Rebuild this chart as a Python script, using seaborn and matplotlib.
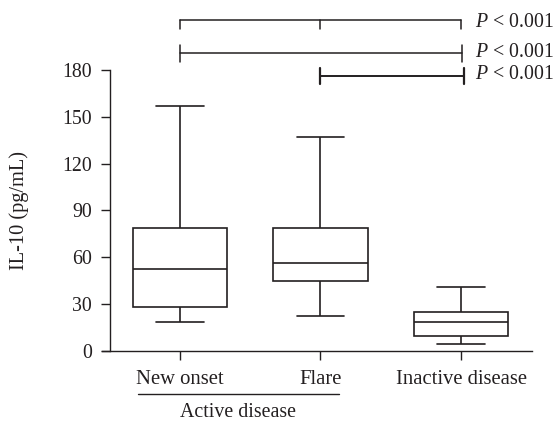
import matplotlib
matplotlib.use("Agg")
import matplotlib.pyplot as plt
import seaborn as sns
import pandas as pd

# Data (five-number summaries: min, Q1, median, Q3, max)
categories = ["New onset", "Flare", "Inactive disease"]
new_onset = [18.6, 28.4, 52.3, 79.0, 157.0]
flare = [22.4, 45.0, 56.2, 78.8, 137.3]
inactive = [4.7, 9.6, 18.8, 25.2, 41.2]
y_ticks = [0, 30, 60, 90, 120, 150, 180]
p_labels = ["$P$ < 0.001", "$P$ < 0.001", "$P$ < 0.001"]
ylabel = "IL-10 (pg/mL)"
group_label = "Active disease"

sns.set_style("ticks")
plt.rcParams["font.family"] = ["Liberation Serif", "DejaVu Serif"]
plt.rcParams["mathtext.fontset"] = "custom"
plt.rcParams["mathtext.rm"] = "Liberation Serif"
plt.rcParams["mathtext.it"] = "Liberation Serif:italic"

ink = "#231f20"
fs = 14.3

df = pd.DataFrame({
    "group": [categories[0]] * len(new_onset) + [categories[1]] * len(flare) + [categories[2]] * len(inactive),
    "value": new_onset + flare + inactive,
})

fig = plt.figure(figsize=(5.53, 4.21), dpi=100)
ax = fig.add_axes([0.1844, 0.1663, 0.7776, 0.6675])

line_kws = dict(color=ink, linewidth=1.1)
sns.boxplot(data=df, x="group", y="value", order=categories, ax=ax,
            whis=(0, 100), width=0.67, color="white", linecolor=ink, linewidth=1.2,
            fill=True, showfliers=False)

ax.set_xlim(-0.555, 2.505)
ax.set_ylim(0, 180)
ax.set_yticks(y_ticks)
ax.set_ylabel(ylabel, fontsize=fs + 0.4, color=ink)
ax.yaxis.set_label_coords(-0.170, 0.5)
ax.set_xlabel("")

for s in ["top", "right"]:
    ax.spines[s].set_visible(False)
ax.spines["left"].set_position(("data", -0.5))
for s in ["left", "bottom"]:
    ax.spines[s].set_color(ink)
    ax.spines[s].set_linewidth(1.0)

ax.tick_params(axis="both", direction="out", length=6.5, width=1.0, color=ink,
               labelsize=fs, labelcolor=ink)
ax.tick_params(axis="y", pad=6.5)
ax.tick_params(axis="x", pad=7, labelsize=fs + 0.6)

# Significance brackets
# bracket 1: line with downward ticks at all three groups
y1 = 212.0
ax.plot([0, 2], [y1, y1], clip_on=False, **line_kws)
for xx in [0, 1, 2]:
    ax.plot([xx, xx], [y1, y1 - 5.8], clip_on=False, **line_kws)
# bracket 2: New onset vs Inactive
y2 = 190.7
ax.plot([0, 2.01], [y2, y2], clip_on=False, **line_kws)
for xx in [0, 2.01]:
    ax.plot([xx, xx], [y2 - 5.3, y2 + 5.3], clip_on=False, **line_kws)
# bracket 3: Flare vs Inactive
y3 = 176.2
ax.plot([1, 2.02], [y3, y3], clip_on=False, color=ink, linewidth=1.4)
for xx in [1, 2.02]:
    ax.plot([xx, xx], [y3 - 5.1, y3 + 5.1], clip_on=False, color=ink, linewidth=1.6)

for yy, lab in zip([210.3, 190.9, 177.4], p_labels):
    ax.text(2.0996, yy, lab, fontsize=fs, color=ink, ha="left", va="center", clip_on=False)

# Active disease grouping
ax.plot([-0.301, 1.132], [-27.7, -27.7], clip_on=False, color=ink, linewidth=1.0)
ax.text(0.416, -39.5, group_label, fontsize=fs, color=ink, ha="center", va="center", clip_on=False)

fig.savefig("out.png", dpi=100)
